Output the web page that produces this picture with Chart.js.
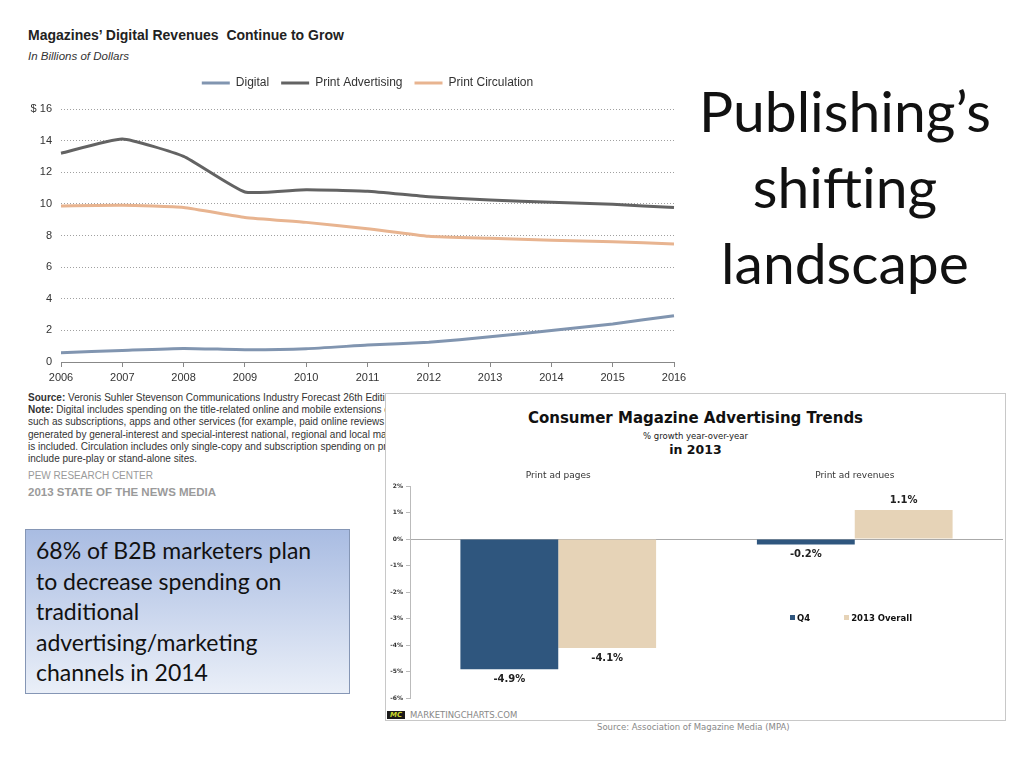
<!DOCTYPE html>
<html><head><meta charset="utf-8">
<script src="https://cdn.jsdelivr.net/npm/chart.js@4"></script>
<style>
body{margin:0;width:1024px;height:768px;background:#fff;position:relative;overflow:hidden;font-family:"Liberation Sans",Arial,sans-serif;}
.abs{position:absolute;white-space:nowrap;}
.mpa{font-family:"DejaVu Sans",Verdana,sans-serif;}
</style></head><body>
<script>
// ---- Data: Pew line chart ----
const years = ['2006','2007','2008','2009','2010','2011','2012','2013','2014','2015','2016'];
const digital = [0.59,0.73,0.86,0.78,0.84,1.07,1.25,1.59,1.99,2.41,2.93];
const printAdvertising = [13.2,14.1,13.0,10.75,10.9,10.8,10.45,10.25,10.1,9.97,9.77];
const printCirculation = [9.87,9.91,9.77,9.14,8.83,8.43,7.95,7.82,7.7,7.6,7.47];
const lineSeriesNames = ['Digital','Print Advertising','Print Circulation'];
// ---- Data: MPA bar chart ----
const mpaCategories = ['Print ad pages','Print ad revenues'];
const q4 = [-4.9,-0.2];
const overall2013 = [-4.1,1.1];
const barSeriesNames = ['Q4','2013 Overall'];
</script>

<div class="abs" style="left:28px;top:27px;font-size:14px;font-weight:bold;color:#222;line-height:16px">Magazines’ Digital Revenues&nbsp; Continue to Grow</div>
<div class="abs" style="left:28px;top:49px;font-size:11.5px;font-style:italic;color:#333;line-height:14px">In Billions of Dollars</div>
<div class="abs" style="left:0;top:65px;width:700px;height:325px"><canvas id="line"></canvas></div>

<div class="abs" style="left:28px;top:392px;width:357px;overflow:hidden;font-size:10px;line-height:12.2px;color:#333">
<div><b>Source:</b> Veronis Suhler Stevenson Communications Industry Forecast 26th Edition</div>
<div><b>Note:</b> Digital includes spending on the title-related online and mobile extensions of</div>
<div>such as subscriptions, apps and other services (for example, paid online reviews</div>
<div>generated by general-interest and special-interest national, regional and local magazines</div>
<div>is included. Circulation includes only single-copy and subscription spending on print</div>
<div>include pure-play or stand-alone sites.</div>
</div>
<div class="abs" style="left:28px;top:470px;font-size:10px;line-height:12px;color:#9a9a9a">PEW RESEARCH CENTER</div>
<div class="abs" style="left:28px;top:485px;font-size:11.5px;line-height:14px;color:#9a9a9a;font-weight:bold">2013 STATE OF THE NEWS MEDIA</div>

<div class="abs" style="left:25px;top:529px;width:325px;height:165px;box-sizing:border-box;border:1px solid #8596b5;background:linear-gradient(#a9bce2,#eaeff8);"></div>
<div class="abs" style="left:36px;top:535px;font-family:Lato,'Noto Sans',sans-serif;font-size:23px;line-height:30.5px;color:#111">68% of B2B marketers plan<br>to decrease spending on<br>traditional<br>advertising/marketing<br>channels in 2014</div>

<div class="abs" style="left:690px;top:72px;width:310px;text-align:center;font-family:Lato,'Noto Sans',sans-serif;font-size:57px;line-height:76px;color:#111">Publishing’s<br>shifting<br>landscape</div>

<div class="abs mpa" style="left:385px;top:393px;width:621px;height:328px;box-sizing:border-box;border:1px solid #c8c8c8;background:#fff;"></div>
<div class="abs mpa" style="left:385px;top:408px;width:621px;text-align:center;font-size:15px;font-weight:bold;line-height:20px;color:#111">Consumer Magazine Advertising Trends</div>
<div class="abs mpa" style="left:385px;top:430px;width:621px;text-align:center;font-size:8.5px;line-height:12px;color:#222">% growth year-over-year</div>
<div class="abs mpa" style="left:385px;top:442px;width:621px;text-align:center;font-size:12.5px;font-weight:bold;line-height:16px;color:#111">in 2013</div>
<div class="abs" style="left:386px;top:462px;width:619px;height:243px"><canvas id="bar"></canvas></div>
<div class="abs mpa" id="barLegend" style="left:790px;top:612px;font-size:8.5px;font-weight:bold;line-height:12px;color:#111"></div>
<div class="abs mpa" style="left:387px;top:711px;width:18px;height:8px;background:#1a1a1a;color:#c9d62a;font-size:7px;font-weight:bold;font-style:italic;line-height:8px;text-align:center">MC</div>
<div class="abs mpa" style="left:410px;top:709px;font-size:8.5px;line-height:12px;color:#888">MARKETINGCHARTS.COM</div>
<div class="abs mpa" style="left:597px;top:721px;font-size:8.5px;line-height:12px;color:#888">Source: Association of Magazine Media (MPA)</div>

<script>
// adds extra room between the legend and the plot area
const legendGap = {id:'legendGap', afterInit(chart){
  const lg = chart.legend; if(!lg) return;
  const orig = lg.fit;
  lg.fit = function(){ orig.call(this); this.height += 10; };
}};
const lineColors = ['#8195b0','#636363','#e8b490'];
const lineData = [digital, printAdvertising, printCirculation];
new Chart(document.getElementById('line'), {
  type: 'line',
  data: {
    labels: years,
    datasets: lineSeriesNames.map((n,i)=>({label:n, data:lineData[i], borderColor:lineColors[i], backgroundColor:lineColors[i], borderWidth:3, pointRadius:0, tension:0.15}))
  },
  options: {
    responsive:true, maintainAspectRatio:false, animation:false,
    layout:{padding:{top:0,right:26,left:0,bottom:0}},
    plugins:{
      legend:{display:true, position:'top', fullSize:false,
        labels:{usePointStyle:true, pointStyle:'line', pointStyleWidth:28, font:{family:'Liberation Sans',size:12}, color:'#333', padding:12}},
      tooltip:{enabled:false}
    },
    scales:{
      x:{offset:false, grid:{display:true, drawOnChartArea:false, drawTicks:true, tickLength:5, tickColor:'#888'},
         border:{display:true, color:'#888', width:1},
         ticks:{font:{family:'Liberation Sans',size:11}, color:'#333', padding:4, maxRotation:0, autoSkip:false},
         afterFit(s){s.height=28;}},
      y:{min:0, max:16,
         ticks:{stepSize:2, font:{family:'Liberation Sans',size:11}, color:'#333', padding:9, callback:v=> v===16 ? '$ 16' : v},
         grid:{color:'#a0a0a0', drawTicks:false, lineWidth:1},
         border:{display:false, dash:[1,2]},
         afterFit(s){s.width=61;}}
    }
  },
  plugins:[legendGap]
});

const valueLabels = {id:'valueLabels', afterDatasetsDraw(chart){
  const ctx = chart.ctx; ctx.save();
  ctx.font = 'bold 10px "DejaVu Sans"'; ctx.fillStyle = '#222'; ctx.textAlign='center'; ctx.textBaseline='middle';
  chart.data.datasets.forEach((ds,i)=>{
    chart.getDatasetMeta(i).data.forEach((el,j)=>{
      const v = ds.data[j];
      ctx.fillText(v.toFixed(1)+'%', el.x, v<0 ? el.y+10 : el.y-9);
    });
  });
  ctx.restore();
}};
const barColors = ['#2f567e','#e6d3b7'];
const barData = [q4, overall2013];
new Chart(document.getElementById('bar'), {
  type:'bar',
  data:{labels:mpaCategories, datasets:barSeriesNames.map((n,i)=>({label:n, data:barData[i], backgroundColor:barColors[i], categoryPercentage:0.66, barPercentage:1.0}))},
  options:{
    responsive:true, maintainAspectRatio:false, animation:false,
    layout:{padding:{right:2,top:0,left:0,bottom:0}},
    plugins:{legend:{display:false}, tooltip:{enabled:false}},
    scales:{
      x:{position:'top', grid:{display:false, drawTicks:false, tickLength:0}, border:{display:false},
         ticks:{font:{family:'DejaVu Sans',size:9}, color:'#333', padding:5},
         afterFit(s){s.height=24;}},
      y:{min:-6, max:2,
         ticks:{stepSize:1, callback:v=>v+'%', font:{family:'DejaVu Sans',size:6,weight:'bold'}, color:'#333', padding:3},
         grid:{color:c=> (c.tick && c.tick.value===0) ? '#aaaaaa' : 'rgba(0,0,0,0)', tickColor:'#bbb', tickLength:4, drawTicks:true},
         border:{display:true, color:'#bbb'},
         afterFit(s){s.width=24;}}
    }
  },
  plugins:[valueLabels]
});
document.getElementById('barLegend').innerHTML = barSeriesNames.map((n,i)=>
  `<span style="display:inline-block;width:5px;height:5px;background:${barColors[i]};margin-right:2px;vertical-align:1px"></span>${n}`
).join('<span style="display:inline-block;width:34px"></span>');
</script>
</body></html>
